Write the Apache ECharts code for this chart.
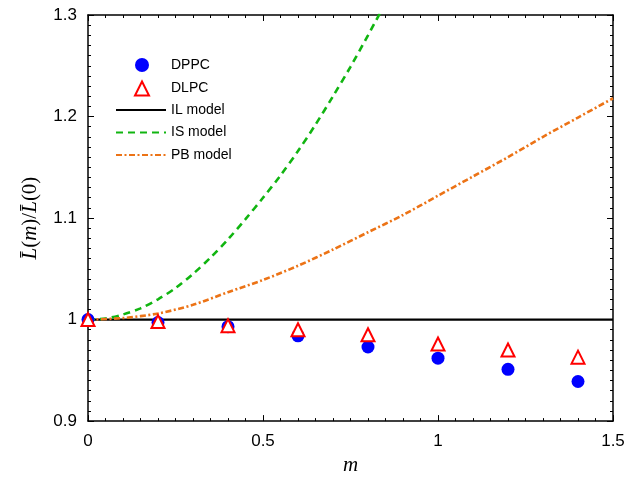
<!DOCTYPE html>
<html>
<head>
<meta charset="utf-8">
<script src="https://cdn.jsdelivr.net/npm/echarts@6/dist/echarts.min.js"></script>
<style>
  html, body { margin: 0; padding: 0; background: #fff; }
  #box { width: 638px; height: 481px; }
</style>
</head>
<body>
<div id="box"></div>
<script>
  // measured points
  var mPoints = [0, 0.2, 0.4, 0.6, 0.8, 1.0, 1.2, 1.4];
  var dppc = [1.000, 0.997, 0.993, 0.984, 0.973, 0.962, 0.951, 0.939];
  var dlpc = [1.000, 0.998, 0.994, 0.990, 0.985, 0.976, 0.970, 0.963];

  // model curves
  var isM = [0, 0.05, 0.1, 0.15, 0.2, 0.25, 0.3, 0.35, 0.4, 0.45, 0.5, 0.55, 0.6, 0.65, 0.7, 0.75, 0.8, 0.85];
  var isVals = [1.000, 1.001, 1.005, 1.011, 1.020, 1.031, 1.045, 1.061, 1.079, 1.099, 1.120, 1.142, 1.166, 1.192, 1.220, 1.249, 1.280, 1.312];
  var pbM = [0, 0.1, 0.2, 0.3, 0.4, 0.5, 0.6, 0.7, 0.8, 0.9, 1.0, 1.1, 1.2, 1.3, 1.4, 1.5];
  var pbVals = [1.000, 1.0015, 1.006, 1.0145, 1.027, 1.039, 1.053, 1.069, 1.086, 1.103, 1.122, 1.141, 1.160, 1.180, 1.199, 1.218];
  var ilM = [0, 1.5];
  var ilVals = [1, 1];

  var xTicks = ['0', '0.5', '1', '1.5'];
  var yTicks = ['0.9', '1', '1.1', '1.2', '1.3'];

  function pairs(xs, ys) {
    return xs.map(function (x, i) { return [x, ys[i]]; });
  }

  var myChart = echarts.init(document.getElementById('box'));

  var labelFont = { fontFamily: 'Liberation Sans', fontSize: 17, color: '#000' };
  var legendFont = { fontFamily: 'Liberation Sans', fontSize: 14, color: '#000' };
  var noSymbol = { color: 'rgba(0,0,0,0)', borderColor: 'rgba(0,0,0,0)', borderWidth: 0 };

  function axisBase(show) {
    return {
      axisLine: { show: true, onZero: false, lineStyle: { color: '#000', width: 1.5 } },
      axisTick: { show: true, inside: true, length: 6, lineStyle: { color: '#000', width: 1 } },
      minorTick: { show: true, splitNumber: 10, length: 3, lineStyle: { color: '#000', width: 1 } },
      splitLine: { show: false },
      axisLabel: Object.assign({ show: show }, labelFont)
    };
  }

  var option = {
    animation: false,
    backgroundColor: '#fff',
    grid: { left: 88, right: 25, top: 15, bottom: 56 },
    legend: [
      {
        // markers
        left: 134, top: 58, padding: 0,
        orient: 'vertical',
        itemWidth: 14, itemHeight: 14, itemGap: 8.5,
        textStyle: Object.assign({ padding: [0, 0, 0, 17] }, legendFont),
        data: ['DPPC', 'DLPC']
      },
      {
        // model lines
        left: 115, top: 103, padding: 0,
        orient: 'vertical',
        itemWidth: 50, itemHeight: 14, itemGap: 8.5,
        textStyle: legendFont,
        data: [
          { name: 'IL model', itemStyle: noSymbol },
          { name: 'IS model', itemStyle: noSymbol },
          { name: 'PB model', itemStyle: noSymbol }
        ]
      }
    ],
    xAxis: [
      Object.assign(axisBase(true), {
        type: 'value', min: 0, max: 1.5, interval: 0.5, position: 'bottom',
        name: 'm', nameLocation: 'middle', nameGap: 28,
        nameTextStyle: { fontFamily: 'Liberation Serif', fontStyle: 'italic', fontSize: 21, color: '#000' },
        axisLabel: Object.assign({ margin: 12, formatter: function (v) { return xTicks[Math.round(v / 0.5)]; } }, labelFont)
      }),
      Object.assign(axisBase(false), { type: 'value', min: 0, max: 1.5, interval: 0.5, position: 'top' })
    ],
    yAxis: [
      Object.assign(axisBase(true), {
        type: 'value', min: 0.9, max: 1.3, interval: 0.1, position: 'left',
        name: '{i|L\u0304}{u|(}{i|m}{u|)/}{i|L\u0304}{u|(0)}',
        nameLocation: 'middle', nameGap: 47, nameRotate: 90,
        nameTextStyle: {
          color: '#000',
          rich: {
            i: { fontFamily: 'Liberation Serif', fontStyle: 'italic', fontSize: 21, color: '#000' },
            u: { fontFamily: 'Liberation Serif', fontSize: 21, color: '#000' }
          }
        },
        axisLabel: Object.assign({ margin: 11, formatter: function (v) { return yTicks[Math.round((v - 0.9) / 0.1)]; } }, labelFont)
      }),
      Object.assign(axisBase(false), { type: 'value', min: 0.9, max: 1.3, interval: 0.1, position: 'right' })
    ],
    series: [
      {
        name: 'IL model', type: 'line', symbol: 'none', z: 2,
        lineStyle: { color: '#000', width: 2.2 },
        itemStyle: { color: '#000' },
        data: pairs(ilM, ilVals)
      },
      {
        name: 'IS model', type: 'line', symbol: 'none', smooth: 0.3, z: 2,
        lineStyle: { color: '#11b511', width: 2.6, type: [7, 5] },
        itemStyle: { color: '#11b511' },
        data: pairs(isM, isVals)
      },
      {
        name: 'PB model', type: 'line', symbol: 'none', smooth: 0.3, z: 2,
        lineStyle: { color: '#ec7316', width: 2.6, type: [6, 2.5, 2, 2.5] },
        itemStyle: { color: '#ec7316' },
        data: pairs(pbM, pbVals)
      },
      {
        name: 'DPPC', type: 'scatter', symbol: 'circle', symbolSize: 13, z: 3,
        itemStyle: { color: '#0000ff', opacity: 1 },
        data: pairs(mPoints, dppc)
      },
      {
        name: 'DLPC', type: 'scatter', symbol: 'triangle', symbolSize: 13, z: 4,
        itemStyle: { color: '#fff', borderColor: '#ff0000', borderWidth: 2, opacity: 1 },
        data: pairs(mPoints, dlpc)
      }
    ]
  };

  myChart.setOption(option);
</script>
</body>
</html>
